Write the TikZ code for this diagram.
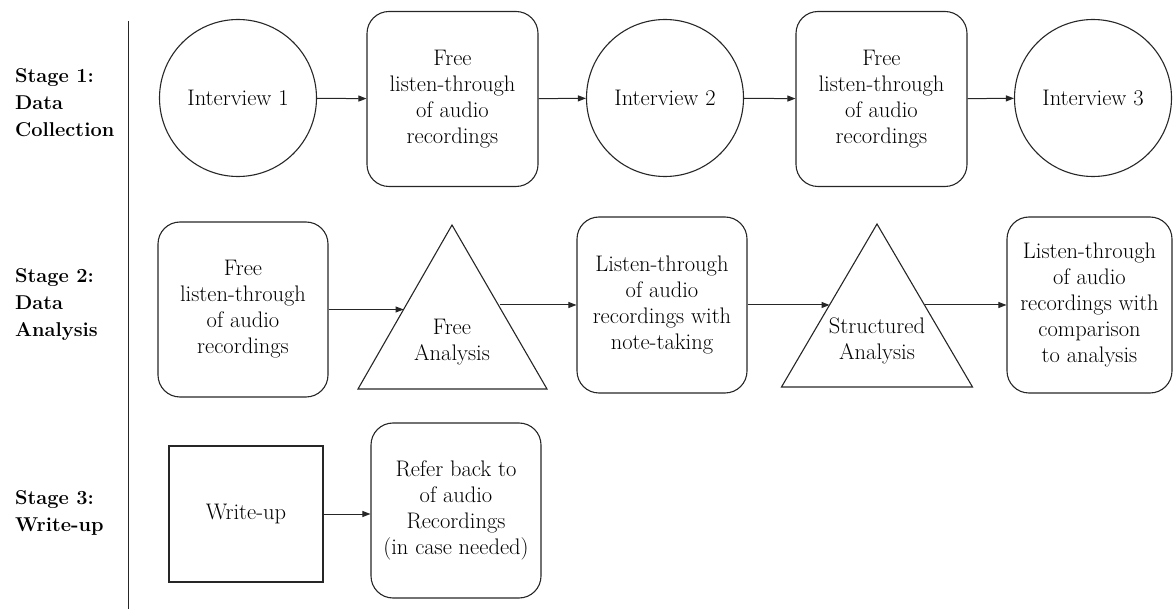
\documentclass[tikz,border=0pt]{standalone}
\usepackage{fontspec}
\usetikzlibrary{arrows.meta}
\begin{document}
\begin{tikzpicture}[x=1pt,y=-1pt,
  every node/.style={font=\fontsize{22.5}{26}\selectfont, align=center, inner sep=0pt},
  stagelbl/.style={anchor=west, align=left, font=\fontsize{20}{27}\selectfont\bfseries},
  roundbox/.style={draw=black!85, line width=1.1pt, rounded corners=22pt, minimum width=171pt, minimum height=175pt},
  plainbox/.style={draw=black!85, line width=1.1pt, minimum width=154pt, minimum height=136pt},
  circ/.style={draw=black!85, circle, line width=1.1pt, minimum size=157pt},
  tri/.style={draw=black!85, line width=1.1pt, line join=miter},
  flow/.style={draw=black!85, line width=1pt, -{Triangle[length=8pt,width=6pt]}}
]
\useasboundingbox (0,0) rectangle (1176,609);

% divider
\coordinate (dtop) at (128.5,21);
\coordinate (dbot) at (128.5,609);
\draw[black!85, line width=1.1pt] (dtop) -- (dbot);

% stage labels
\node[stagelbl] (s1) at (15,103) {Stage 1:\\Data\\Collection};
\node[stagelbl] (s2) at (15,305) {Stage 2:\\Data\\Analysis};
\node[stagelbl] (s3) at (15,513) {Stage 3:\\Write-up};

% row 1
\node[circ] (i1) at (238,98) {Interview 1};
\node[roundbox] (f1) at (452.5,99) {Free\\listen-through\\of audio\\recordings};
\node[circ] (i2) at (665,98) {Interview 2};
\node[roundbox] (f2) at (881.5,99) {Free\\listen-through\\of audio\\recordings};
\node[circ] (i3) at (1093,98) {Interview 3};
\draw[flow] (i1) -- (f1);
\draw[flow] (f1) -- (i2);
\draw[flow] (i2) -- (f2);
\draw[flow] (f2) -- (i3);

% row 2
\node[roundbox, minimum width=170pt] (a1) at (243,309.5) {Free\\listen-through\\of audio\\recordings};
\draw[tri] (452,225) -- (547,389) -- (358,389) -- cycle;
\node (t1) at (452,342) {Free\\Analysis};
\coordinate (t1in) at (403.6,309.5);
\coordinate (t1out) at (500.4,305);
\node[roundbox, minimum width=170pt, minimum height=176pt] (a2) at (662,305) {Listen-through\\of audio\\recordings with\\note-taking};
\draw[tri] (877,224) -- (972.5,387) -- (781.5,387) -- cycle;
\node (t2) at (877,341) {Structured\\Analysis};
\coordinate (t2in) at (829.5,305);
\coordinate (t2out) at (924.5,305);
\node[roundbox, minimum width=165pt, minimum height=176pt] (a3) at (1089.5,305) {Listen-through\\of audio\\recordings with\\comparison\\to analysis};
\draw[flow] (a1.east) -- (t1in);
\draw[flow] (t1out) -- (a2.west);
\draw[flow] (a2.east) -- (t2in);
\draw[flow] (t2out) -- (a3.west);

% row 3
\node[plainbox] (w) at (246,514) {Write-up};
\node[roundbox, minimum width=170pt] (r) at (456,510.5) {Refer back to\\of audio\\Recordings\\(in case needed)};
\draw[flow] (w.east) -- (w.east -| r.west);
\end{tikzpicture}
\end{document}
